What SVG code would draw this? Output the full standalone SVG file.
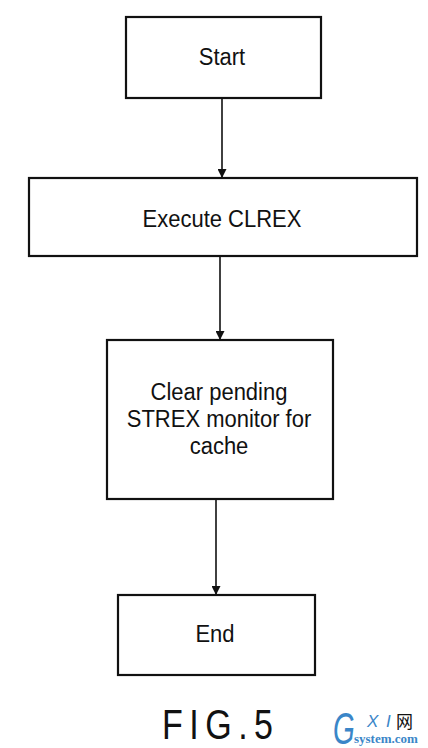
<svg xmlns="http://www.w3.org/2000/svg" width="428" height="748" viewBox="0 0 428 748">
<defs>
<style>
.box{fill:#fff;stroke:#111;stroke-width:2.2}
.lbl{font-family:"Liberation Sans",Arial,sans-serif;font-size:22px;fill:#111;text-anchor:middle}
.conn{stroke:#111;stroke-width:1.6;fill:none}
.fig{font-family:"Liberation Sans",Arial,sans-serif;font-size:34px;fill:#111;letter-spacing:6.5px}
.wm{fill:#3a86c8}
</style>
<marker id="arr" viewBox="0 0 10 10" refX="10" refY="5" markerWidth="9" markerHeight="9" markerUnits="userSpaceOnUse" orient="auto">
<path d="M0,0 L10,5 L0,10 Z" fill="#111"/>
</marker>
</defs>
<rect width="428" height="748" fill="#fff"/>
<g id="connectors">
<line class="conn" x1="222" y1="98" x2="222" y2="178" marker-end="url(#arr)"/>
<line class="conn" x1="220" y1="256" x2="220" y2="340" marker-end="url(#arr)"/>
<line class="conn" x1="216" y1="499" x2="216" y2="595" marker-end="url(#arr)"/>
</g>
<g id="start">
<rect class="box" x="126" y="17" width="195" height="81"/>
<text class="lbl" transform="translate(222,65) scale(1,1.1)">Start</text>
</g>
<g id="execute">
<rect class="box" x="29" y="178" width="388" height="78"/>
<text class="lbl" transform="translate(222,227) scale(1,1.1)">Execute CLREX</text>
</g>
<g id="clear">
<rect class="box" x="107" y="340" width="226" height="159"/>
<text class="lbl" transform="translate(219,400) scale(1,1.1)">Clear pending</text>
<text class="lbl" transform="translate(219,427) scale(1,1.1)">STREX monitor for</text>
<text class="lbl" transform="translate(219,454) scale(1,1.1)">cache</text>
</g>
<g id="end">
<rect class="box" x="118" y="595" width="197" height="80"/>
<text class="lbl" transform="translate(215,642) scale(1,1.1)">End</text>
</g>
<text class="fig" transform="translate(162,739) scale(1,1.25)">FIG.5</text>
<g id="watermark">
<text class="wm" transform="translate(333,744) scale(0.62,1)" font-family="'Liberation Sans',sans-serif" font-style="italic" font-size="45">G</text>
<text class="wm" x="367" y="727" font-family="'Liberation Sans',sans-serif" font-style="italic" font-size="17">X</text>
<text class="wm" x="386" y="727" font-family="'Liberation Sans',sans-serif" font-style="italic" font-size="17">I</text>
<text x="396" y="728" font-family="'Noto Sans CJK SC',sans-serif" font-size="17" fill="#111">网</text>
<text class="wm" x="354" y="743" font-family="'Liberation Serif',serif" font-weight="bold" font-size="13">system.com</text>
</g>
</svg>
